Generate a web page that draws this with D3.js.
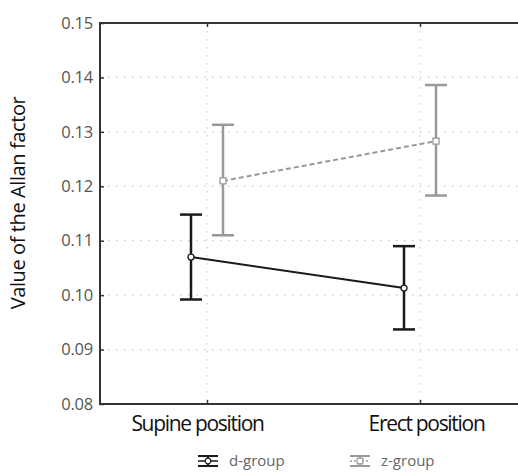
<!DOCTYPE html>
<html>
<head>
<meta charset="utf-8">
<script src="https://cdn.jsdelivr.net/npm/d3@7"></script>
<style>
  body { margin: 0; background: #fff; }
  text { font-family: "Open Sans", "Noto Sans", sans-serif; }
</style>
</head>
<body>
<svg id="chart"></svg>
<script>
// categories and series
const categories = ["Supine position", "Erect position"];
const groups = ["d-group", "z-group"];
const dMean = [0.1070, 0.1013];
const dLow = [0.0992, 0.0937];
const dHigh = [0.1148, 0.1090];
const zMean = [0.1210, 0.1283];
const zLow = [0.1110, 0.1183];
const zHigh = [0.1313, 0.1386];
const yTicks = [0.08, 0.09, 0.10, 0.11, 0.12, 0.13, 0.14, 0.15];

const width = 518, height = 472;
const margin = {top: 23, right: 0, bottom: 68, left: 100};
const innerW = width - margin.left - margin.right;
const innerH = height - margin.top - margin.bottom;

const svg = d3.select("#chart").attr("width", width).attr("height", height);
const g = svg.append("g").attr("transform", `translate(${margin.left},${margin.top})`);

const x = d3.scalePoint().domain(categories).range([107, 320]);
const y = d3.scaleLinear().domain([0.08, 0.15]).range([innerH, 0]);

// grid
g.append("g").selectAll("line")
  .data(yTicks.slice(1, -1))
  .join("line")
  .attr("x1", 0).attr("x2", innerW)
  .attr("y1", d => y(d)).attr("y2", d => y(d))
  .attr("stroke", "#c8c8c8").attr("stroke-width", 1.2)
  .attr("stroke-dasharray", "1.5,6.5");

g.append("g").selectAll("line")
  .data(categories)
  .join("line")
  .attr("x1", d => x(d)).attr("x2", d => x(d))
  .attr("y1", 0).attr("y2", innerH)
  .attr("stroke", "#c8c8c8").attr("stroke-width", 1.2)
  .attr("stroke-dasharray", "1.5,6.5");

// axes
const yAxis = g.append("g")
  .call(d3.axisLeft(y).tickValues(yTicks).tickFormat(d3.format(".2f")).tickSizeInner(-4).tickSizeOuter(0).tickPadding(8));
yAxis.select(".domain").remove();
yAxis.selectAll(".tick line").attr("stroke", "#333").attr("stroke-width", 1.5);
yAxis.selectAll(".tick text").attr("fill", "#555").attr("font-size", 16.5)
  .attr("letter-spacing", -0.2).attr("x", -7);

const labelShift = [-10, 6];
const xAxis = g.append("g").attr("transform", `translate(0,${innerH})`)
  .call(d3.axisBottom(x).tickSizeInner(-4).tickSizeOuter(0).tickPadding(10));
xAxis.select(".domain").remove();
xAxis.selectAll(".tick line").attr("stroke", "#333").attr("stroke-width", 1.5);
xAxis.selectAll(".tick text").attr("fill", "#111").attr("font-size", 21)
  .attr("letter-spacing", -1.3).attr("dy", "0.8em")
  .attr("dx", (d, i) => labelShift[i]);

const xTop = g.append("g")
  .call(d3.axisTop(x).tickSizeInner(-4).tickSizeOuter(0).tickFormat(""));
xTop.select(".domain").remove();
xTop.selectAll(".tick line").attr("stroke", "#333").attr("stroke-width", 1.5);

// frame: left, top, bottom
const frame = g.append("g").attr("stroke", "#333").attr("stroke-width", 2).attr("fill", "none");
frame.append("line").attr("x1", 0).attr("x2", innerW).attr("y1", 0).attr("y2", 0);
frame.append("line").attr("x1", 0).attr("x2", innerW).attr("y1", innerH).attr("y2", innerH);
frame.append("line").attr("x1", 0).attr("x2", 0).attr("y1", -1).attr("y2", innerH + 1);

// y label
svg.append("text")
  .attr("transform", `translate(18,203) rotate(-90)`)
  .attr("text-anchor", "middle")
  .attr("dy", "0.35em")
  .attr("font-size", 20)
  .attr("fill", "#111")
  .attr("letter-spacing", -0.4)
  .text("Value of the Allan factor");

const series = [
  {name: groups[0], mean: dMean, low: dLow, high: dHigh, off: -16, color: "#1a1a1a", dash: null, shape: "circle"},
  {name: groups[1], mean: zMean, low: zLow, high: zHigh, off: 16, color: "#999", dash: "5,3", shape: "square"}
];

const capW = 11;
series.forEach(s => {
  const pts = categories.map((c, i) => ({cx: x(c) + s.off, m: s.mean[i], lo: s.low[i], hi: s.high[i]}));
  const sg = g.append("g");

  sg.append("path")
    .datum(pts)
    .attr("fill", "none")
    .attr("stroke", s.color).attr("stroke-width", 2)
    .attr("stroke-dasharray", s.dash)
    .attr("d", d3.line().x(d => d.cx).y(d => y(d.m)));

  const eb = sg.selectAll("g").data(pts).join("g");
  eb.append("line")
    .attr("x1", d => d.cx).attr("x2", d => d.cx)
    .attr("y1", d => y(d.lo)).attr("y2", d => y(d.hi))
    .attr("stroke", s.color).attr("stroke-width", 2.5);
  eb.append("line")
    .attr("x1", d => d.cx - capW).attr("x2", d => d.cx + capW)
    .attr("y1", d => y(d.hi)).attr("y2", d => y(d.hi))
    .attr("stroke", s.color).attr("stroke-width", 2.5);
  eb.append("line")
    .attr("x1", d => d.cx - capW).attr("x2", d => d.cx + capW)
    .attr("y1", d => y(d.lo)).attr("y2", d => y(d.lo))
    .attr("stroke", s.color).attr("stroke-width", 2.5);

  if (s.shape === "circle") {
    eb.append("circle")
      .attr("cx", d => d.cx).attr("cy", d => y(d.m)).attr("r", 3)
      .attr("fill", "#fff").attr("stroke", s.color).attr("stroke-width", 1.3);
  } else {
    eb.append("rect")
      .attr("x", d => d.cx - 3).attr("y", d => y(d.m) - 3)
      .attr("width", 6).attr("height", 6)
      .attr("fill", "#fff").attr("stroke", s.color).attr("stroke-width", 1.3);
  }
});

// legend
const legendX = [208, 360];
const legY = 461;
const leg = svg.append("g").selectAll("g").data(series).join("g")
  .attr("transform", (d, i) => `translate(${legendX[i]},${legY})`);
leg.append("line").attr("x1", -10).attr("x2", 10).attr("y1", -5).attr("y2", -5)
  .attr("stroke", d => d.color).attr("stroke-width", 2);
leg.append("line").attr("x1", -10).attr("x2", 10).attr("y1", 5).attr("y2", 5)
  .attr("stroke", d => d.color).attr("stroke-width", 2);
leg.append("line").attr("x1", 0).attr("x2", 0).attr("y1", -5).attr("y2", 5)
  .attr("stroke", d => d.color).attr("stroke-width", 2);
leg.append("line").attr("x1", -10).attr("x2", 10).attr("y1", 0).attr("y2", 0)
  .attr("stroke", d => d.color).attr("stroke-width", 1.5)
  .attr("stroke-dasharray", d => d.dash ? "2,2" : null);
leg.filter(d => d.shape === "circle").append("circle").attr("r", 2.8)
  .attr("fill", "#fff").attr("stroke", d => d.color).attr("stroke-width", 1.2);
leg.filter(d => d.shape === "square").append("rect")
  .attr("x", -2.8).attr("y", -2.8).attr("width", 5.6).attr("height", 5.6)
  .attr("fill", "#fff").attr("stroke", d => d.color).attr("stroke-width", 1.2);
leg.append("text").attr("x", 21).attr("dy", "0.35em")
  .attr("font-size", 15).attr("fill", "#666")
  .text(d => d.name);
</script>
</body>
</html>
